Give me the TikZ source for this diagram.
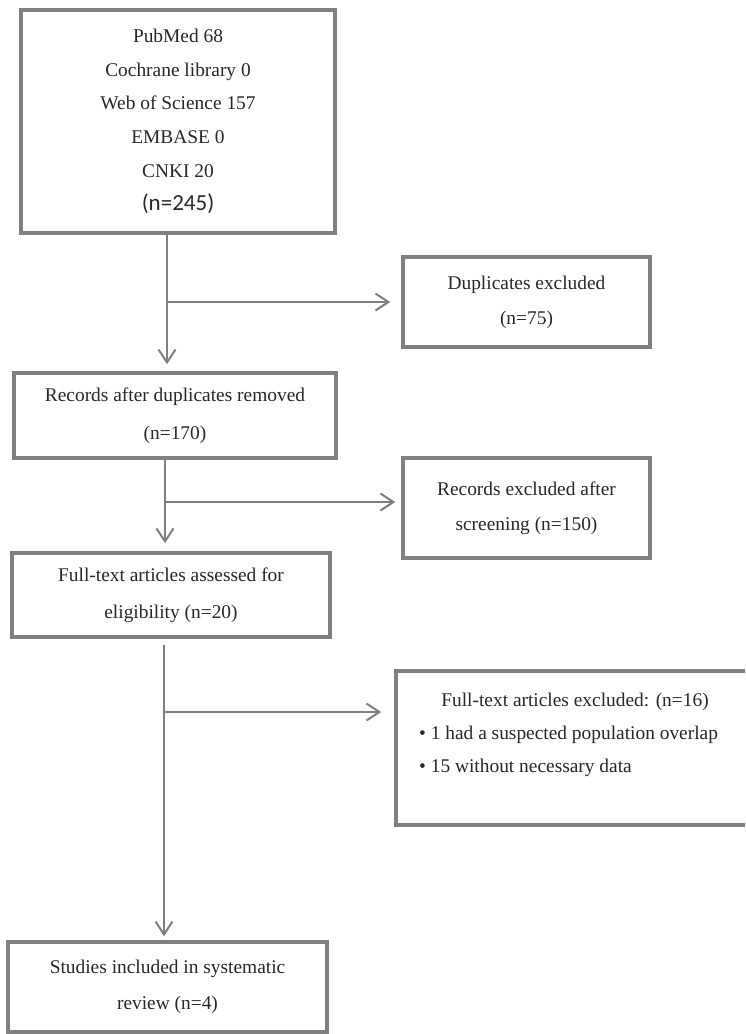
\documentclass[tikz,border=0pt]{standalone}
\usepackage{fontspec}
\setmainfont{Liberation Serif}
\newfontfamily\calibrifont{Carlito}
\usetikzlibrary{arrows.meta}
\definecolor{edgegray}{RGB}{128,128,128}
\definecolor{textgray}{RGB}{40,40,40}
\begin{document}
\begin{tikzpicture}[x=1pt,y=-1pt,
  box/.style={draw=edgegray, line width=3.5pt, inner sep=0pt, align=center,
    text=textgray, font=\fontsize{19.4}{35}\selectfont},
  lbl/.style={inner sep=0pt, text=textgray, font=\fontsize{19.4}{33}\selectfont},
  conn/.style={draw=edgegray, line width=2pt},
  arr/.style={conn, -{Straight Barb[length=13pt,width=17pt,line width=2pt]}}]
\useasboundingbox (0,0) rectangle (745,1034);
\clip (0,0) rectangle (745,1034);
\fill[white] (0,0) rectangle (745,1034);

\node[box, minimum width=314pt, minimum height=223pt, font=\fontsize{19.4}{33.6}\selectfont]
  (src) at (178,121.5) {PubMed 68\\Cochrane library 0\\Web of Science 157\\EMBASE 0\\CNKI 20\\{\calibrifont\fontsize{23}{33.6}\selectfont (n=245)}};
\node[box, minimum width=247pt, minimum height=90pt] (dup) at (526.5,302)
  {Duplicates excluded\\(n=75)};
\node[box, minimum width=322pt, minimum height=85pt, font=\fontsize{19.4}{38}\selectfont] (rec) at (175,415.5)
  {Records after duplicates removed\\(n=170)};
\node[box, minimum width=247pt, minimum height=100pt] (scr) at (526.5,508)
  {Records excluded after\\screening (n=150)};
\node[box, minimum width=318pt, minimum height=84pt, font=\fontsize{19.4}{37}\selectfont] (full) at (171,595)
  {Full-text articles assessed for\\eligibility (n=20)};
\node[box, minimum width=358pt, minimum height=154pt] (exc) at (575,748) {};
\node[lbl] (exct) at (575,702) {Full-text articles excluded: (n=16)};
\node[lbl, anchor=west] (exc1) at (419,735) {• 1 had a suspected population overlap};
\node[lbl, anchor=west] (exc2) at (419,768) {• 15 without necessary data};
\node[box, minimum width=319pt, minimum height=90pt, font=\fontsize{19.4}{36}\selectfont] (incl) at (167.5,987)
  {Studies included in systematic\\review (n=4)};

\coordinate (a1) at (167,302);
\coordinate (a2) at (165,502);
\coordinate (a3) at (164,712);

\draw[arr, shorten >=7pt] (src.south -| a1) -- (rec.north -| a1);
\draw[arr, shorten >=11pt] (a1) -- (a1 -| dup.west);
\draw[arr, shorten >=8pt] (rec.south -| a2) -- (full.north -| a2);
\draw[arr, shorten >=6pt] (a2) -- (a2 -| scr.west);
\draw[arr, shorten <=6pt, shorten >=4pt] (full.south -| a3) -- (incl.north -| a3);
\draw[arr, shorten >=13pt] (a3) -- (a3 -| exc.west);
\end{tikzpicture}
\end{document}
